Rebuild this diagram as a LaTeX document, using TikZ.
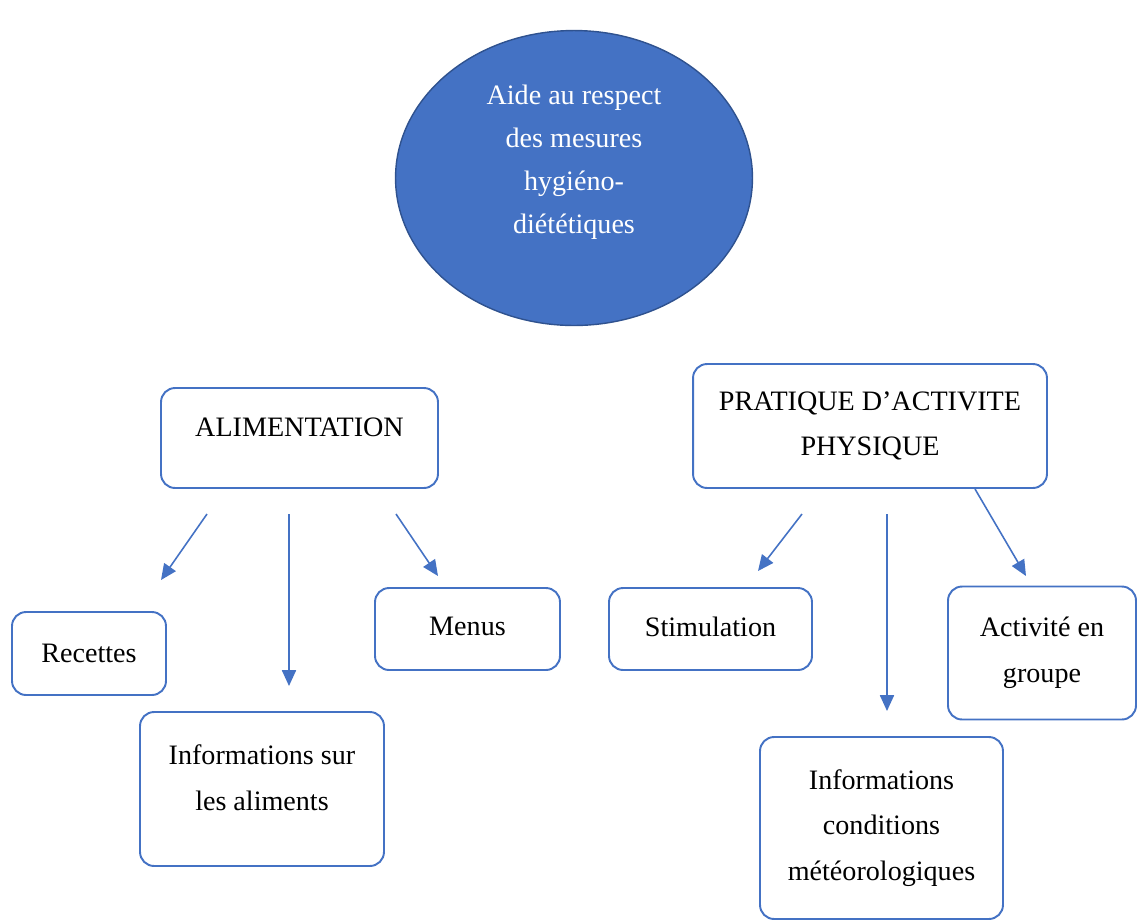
\documentclass[tikz,border=0pt]{standalone}
\usepackage{fontspec}
\setmainfont{Liberation Serif}
\usepackage{tikz}
\usetikzlibrary{arrows.meta,shapes.geometric}
\definecolor{officeblue}{RGB}{68,114,196}
\definecolor{darkblue}{RGB}{47,82,143}

\begin{document}
\begin{tikzpicture}[x=0.02cm, y=-0.02cm,
    box/.style={draw=officeblue, line width=1.1pt, rounded corners=8pt, align=center,
        font=\fontsize{16}{26}\selectfont, inner sep=0pt},
    arr/.style={officeblue, line width=0.9pt, -{Triangle[length=9pt,width=8pt]}}]
    \useasboundingbox (0,0) rectangle (1137,921);

    % Main goal
    \node[ellipse, fill=officeblue, draw=darkblue, line width=0.8pt, text=white,
          minimum width=7.14cm, minimum height=5.9cm, align=center, inner sep=0pt,
          text depth=21pt, font=\fontsize{16}{24.5}\selectfont] (goal) at (574,178)
        {Aide au respect\\des mesures\\hygiéno-\\diététiques};

    % Two themes
    \node[box, minimum width=5.54cm, minimum height=2.0cm, text depth=12pt] (alim) at (299.5,438)
        {ALIMENTATION};
    \node[box, minimum width=7.08cm, minimum height=2.48cm] (pap) at (870,426)
        {PRATIQUE D'ACTIVITE\\PHYSIQUE};

    % Food items
    \node[box, minimum width=3.08cm, minimum height=1.66cm] (recettes) at (89,653.5) {Recettes};
    \node[box, minimum width=4.88cm, minimum height=3.08cm, text depth=13pt] (infoalim) at (262,789)
        {Informations sur\\les aliments};
    \node[box, minimum width=3.70cm, minimum height=1.64cm, text depth=3pt] (menus) at (467.5,629) {Menus};

    % Activity items
    \node[box, minimum width=4.06cm, minimum height=1.64cm, text depth=3pt] (stim) at (710.5,629) {Stimulation};
    \node[box, minimum width=4.86cm, minimum height=3.64cm] (infometeo) at (881.5,828)
        {Informations\\conditions\\météorologiques};
    \node[box, minimum width=3.76cm, minimum height=2.66cm] (groupe) at (1042,653)
        {Activité en\\groupe};

    % Arrow ends
    \coordinate (a1s) at (207,514);  \coordinate (a1e) at (161,580);
    \coordinate (a2s) at (289,514);  \coordinate (a2e) at (289,686);
    \coordinate (a3s) at (396,514);  \coordinate (a3e) at (438,576);
    \coordinate (b1s) at (802,514);  \coordinate (b1e) at (758,571);
    \coordinate (b2s) at (887,514);  \coordinate (b2e) at (887,711);
    \coordinate (b3s) at (975,489);  \coordinate (b3e) at (1026,576);

    % Arrows
    \draw[arr] (a1s) -- (a1e);
    \draw[arr] (a2s) -- (a2e);
    \draw[arr] (a3s) -- (a3e);
    \draw[arr] (b1s) -- (b1e);
    \draw[arr] (b2s) -- (b2e);
    \draw[arr] (b3s) -- (b3e);
\end{tikzpicture}
\end{document}
